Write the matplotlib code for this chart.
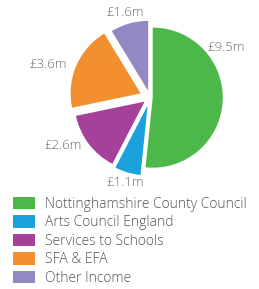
import matplotlib.pyplot as plt
from matplotlib.patches import Patch

plt.rcParams["font.family"] = ["Open Sans", "DejaVu Sans"]

# income sources, £m
sources = [
    "Nottinghamshire County Council",
    "Arts Council England",
    "Services to Schools",
    "SFA & EFA",
    "Other Income",
]
values = [9.5, 1.1, 2.6, 3.6, 1.6]
labels = ["£9.5m", "£1.1m", "£2.6m", "£3.6m", "£1.6m"]
colors = ["#4cb849", "#1ba1dc", "#a5409b", "#f2902f", "#9288c3"]
explode = [0.04, 0.12, 0.1, 0.15, 0.1]

# where the value labels sit (pie radius = 1)
label_pos = [(1.12, 0.74), (-0.37, -1.25), (-1.28, -0.71), (-1.5, 0.49), (-0.37, 1.25)]

fig = plt.figure(figsize=(2.59, 2.89), dpi=100)
ax = fig.add_axes([0, 1 - 190 / 289, 1, 190 / 289])
ax.pie(
    values,
    colors=colors,
    explode=explode,
    startangle=90,
    counterclock=False,
    radius=1.03,
)
for lab, (x, y) in zip(labels, label_pos):
    ax.text(x, y, lab, ha="center", va="center", fontsize=9.5, color="#6b6b6b",
            fontweight="light")
ax.set_aspect("equal")
ax.set_xlim(-150 / 68, 109 / 68)
ax.set_ylim(-92.5 / 68, 97.5 / 68)
ax.axis("off")

handles = [Patch(facecolor=c, edgecolor="none") for c in colors]
fig.legend(
    handles,
    sources,
    loc="upper left",
    bbox_to_anchor=(0.05, 0.32),
    frameon=False,
    prop={"family": ["Open Sans", "DejaVu Sans"], "size": 10, "weight": "light"},
    handlelength=1.6,
    handleheight=1.0,
    handletextpad=0.7,
    labelspacing=0.26,
    borderpad=0,
    borderaxespad=0,
    labelcolor="#555555",
)

fig.savefig("out.png", dpi=100)
